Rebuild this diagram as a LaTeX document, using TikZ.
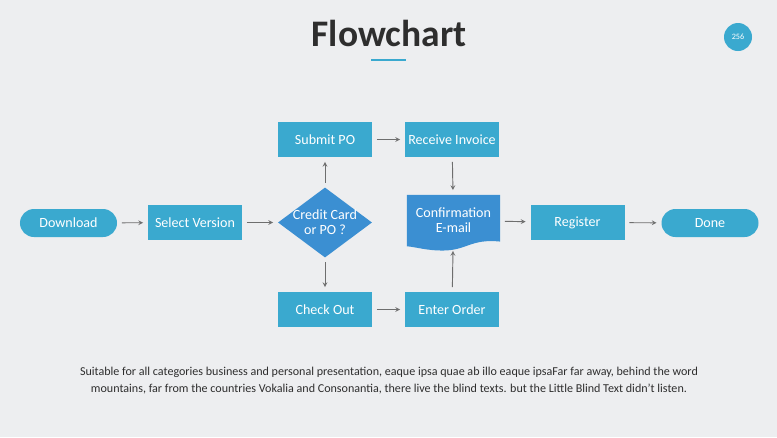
\documentclass[tikz,border=0pt]{standalone}
\usepackage{fontspec}
\setmainfont{Carlito}
\usepackage{tikz}
\usetikzlibrary{shapes.geometric}

\definecolor{boxblue}{HTML}{3AA9CF}
\definecolor{darkblue}{HTML}{3B8FD2}
\definecolor{bggray}{HTML}{EDEEF0}
\definecolor{arrowgray}{HTML}{6E6E6E}
\definecolor{inkgray}{HTML}{2E2E2E}

\pgfdeclarelayer{back}
\pgfsetlayers{back,main}

\begin{document}
\begin{tikzpicture}[x=0.03cm,y=-0.03cm,
    box/.style={shape=rectangle,fill=boxblue,text=white,minimum width=2.82cm,minimum height=1.05cm,inner sep=1pt,align=center,font=\fontsize{12}{13}\selectfont},
    pill/.style={box,rounded corners=0.42cm,minimum width=2.91cm,minimum height=0.84cm},
    decision/.style={shape=diamond,fill=darkblue,minimum width=2.82cm,minimum height=2.1cm,inner sep=0pt},
    flow/.style={->,>=stealth,thick,arrowgray,shorten >=4pt,shorten <=4pt}]
    \node[text=inkgray,font=\fontsize{32}{36}\bfseries\selectfont] (title) at (389,33) {Flowchart};
    \draw[boxblue,line width=1.3pt] (371,60) -- (406,60);
    \node[shape=circle,fill=boxblue,text=white,minimum size=0.84cm,inner sep=0pt,font=\fontsize{7}{8}\selectfont] (page) at (738,37) {256};
    \node[pill] (down) at (68.5,223) {Download};
    \node[box] (sel) at (195,222.5) {Select Version};
    \node[decision,label={[text=white,align=center,font=\fontsize{12}{13}\selectfont]center:Credit Card\\or PO ?}] (dec) at (325,222.5) {};
    \node[box] (sub) at (325,139.5) {Submit PO};
    \node[box] (rec) at (452,139.5) {Receive Invoice};
    \node[box,fill=none,minimum width=2.79cm,minimum height=1.53cm] (conf) at (453.5,220.5) {Confirmation\\E-mail};
    \node[box] (chk) at (325,309.5) {Check Out};
    \node[box] (ent) at (452,309.5) {Enter Order};
    \node[box] (reg) at (577.5,222.5) {Register};
    \node[pill] (done) at (710,223) {Done};
    \node[text=inkgray,align=center,font=\fontsize{10.3}{14.5}\selectfont] (note) at (389,381) {Suitable for all categories business and personal presentation, eaque ipsa quae ab illo eaque ipsaFar far away, behind the word\\mountains, far from the countries Vokalia and Consonantia, there live the blind texts. but the Little Blind Text didn't listen.};
    \path[flow] (down) edge (sel);
    \path[flow] (sel) edge (dec);
    \path[flow] (dec) edge (sub);
    \path[flow] (dec) edge (chk);
    \path[flow] (sub) edge (rec);
    \path[flow] (rec) edge (conf);
    \path[flow] (chk) edge (ent);
    \path[flow] (ent) edge (conf);
    \path[flow] (conf) edge (reg);
    \path[flow] (reg) edge (done);
    \begin{pgfonlayer}{back}
    \fill[bggray] (0,0) rectangle (777,437);
    \fill[darkblue] (conf.north west) -- (conf.north east) -- ([yshift=4pt]conf.south east)
        .. controls +(-30,-3) and +(25,0) .. ++(-58,9)
        .. controls +(-15,0) and +(10,1) .. (conf.south west) -- cycle;
    \end{pgfonlayer}
\end{tikzpicture}
\end{document}
